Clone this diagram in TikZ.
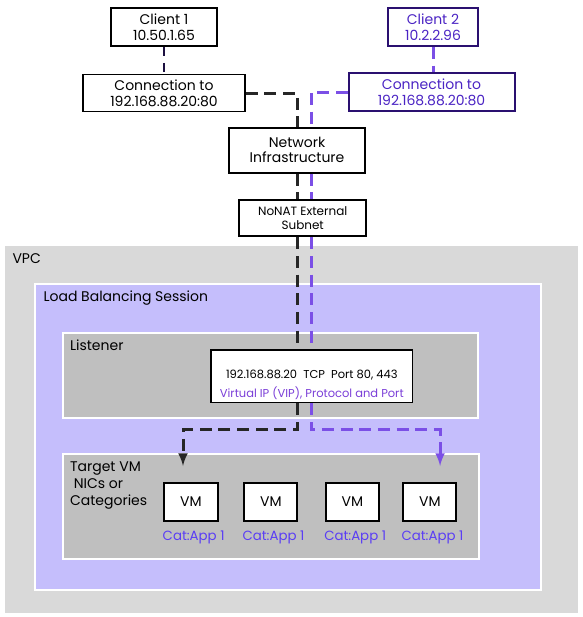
\documentclass[tikz,border=0pt]{standalone}
\usepackage{fontspec}
\setmainfont{Poppins}
\usepackage{xcolor}
\usepackage{tikz}

\definecolor{vpcgray}{HTML}{D9D9D9}
\definecolor{lbpurple}{HTML}{C5BEFC}
\definecolor{lsngray}{HTML}{BFBFBF}
\definecolor{pathblack}{HTML}{262626}
\definecolor{pathpurple}{HTML}{7B4FE6}
\definecolor{navyline}{HTML}{1C1040}
\definecolor{clientpurple}{HTML}{2A1070}
\definecolor{textpurple}{HTML}{4B24C4}
\definecolor{catblue}{HTML}{5A3DF5}
\definecolor{vippurple}{HTML}{7B3FD8}

\begin{document}
\begin{tikzpicture}[x=0.75pt, y=-0.75pt, thick, >=latex,
    box/.style={draw, line width=1.5pt, fill=white, align=center, inner sep=0pt,
        font=\fontsize{10.5}{11.8}\selectfont},
    region/.style={draw=white, line width=1.5pt, inner sep=0pt},
    regionlbl/.style={anchor=base west, inner sep=0pt, font=\fontsize{10.5}{12.5}\selectfont},
    vmbox/.style={box, minimum width=40pt, minimum height=28.5pt},
    catlbl/.style={anchor=base, inner sep=0pt, text=catblue, font=\fontsize{10}{11}\selectfont},
    blkpath/.style={draw=pathblack, line width=2.25pt, dash pattern=on 9pt off 5pt},
    purpath/.style={draw=pathpurple, line width=2.25pt, dash pattern=on 9pt off 5pt}]
    \useasboundingbox (0,0) rectangle (582,617);

    % Regions
    \node[region, draw=none, fill=vpcgray, minimum width=429.75pt, minimum height=275.25pt] (vpc) at (291.5,429.5) {};
    \node[regionlbl] (vpclbl) at ([xshift=6pt,yshift=-13.5pt]vpc.north west) {VPC};
    \node[region, fill=lbpurple, minimum width=379.5pt, minimum height=229.5pt] (lbs) at (288,437) {};
    \node[regionlbl] (lbslbl) at ([xshift=6.75pt,yshift=-13.5pt]lbs.north west) {Load Balancing Session};
    \node[region, fill=lsngray, minimum width=311.6pt, minimum height=63.75pt] (listener) at (270.3,375.8) {};
    \node[regionlbl] (lsnlbl) at ([xshift=6pt,yshift=-14pt]listener.north west) {Listener};
    \node[region, fill=lsngray, minimum width=312.4pt, minimum height=78.75pt] (target) at (270.8,506.5) {};
    \node[anchor=north west, inner sep=0pt, align=left, font=\fontsize{10.5}{12.5}\selectfont] (tgtlbl)
        at ([xshift=6pt,yshift=-6.5pt]target.north west) {Target VM\\\ NICs or\\Categories};

    % Nodes
    \node[box, minimum width=79.5pt, minimum height=28.5pt] (client1) at (164,27) {Client 1\\10.50.1.65};
    \node[box, draw=clientpurple, text=textpurple, minimum width=67pt, minimum height=28.5pt] (client2) at (433,27) {Client 2\\10.2.2.96};
    \node[box, line width=1.2pt, minimum width=121.5pt, minimum height=27.75pt] (conn1) at (164,93) {Connection to\\192.168.88.20:80};
    \node[box, draw=clientpurple, text=textpurple, minimum width=124.5pt, minimum height=28.5pt] (conn2) at (431.5,92) {Connection to\\192.168.88.20:80};
    \node[box, minimum width=102pt, minimum height=33.75pt] (netinfra) at (297,150) {Network\\Infrastructure};
    \node[box, minimum width=95pt, minimum height=27.5pt, font=\fontsize{9}{10.5}\selectfont] (nonat) at (302.7,218) {NoNAT External\\Subnet};
    \node[box, line width=1.2pt, minimum width=151.3pt, minimum height=39.5pt] (vip) at (311.8,376.3) {};
    \node[anchor=base, inner sep=0pt, font=\fontsize{8.6}{9}\selectfont] (vipaddr)
        at ([yshift=-1.5pt]vip.center) {192.168.88.20~~TCP~~Port 80, 443};
    \node[anchor=base, inner sep=0pt, text=vippurple, font=\fontsize{8.6}{9}\selectfont] (viplbl)
        at ([yshift=-16pt]vip.center) {Virtual IP (VIP), Protocol and Port};

    \node[vmbox] (vm1) at (191,502) {VM};
    \node[vmbox] (vm2) at (270.8,502) {VM};
    \node[vmbox] (vm3) at (352.5,502) {VM};
    \node[vmbox] (vm4) at (429.8,502) {VM};
    \foreach \i in {1,...,4}
        \node[catlbl] (cat\i) at ([xshift=2pt,yshift=-13.7pt]vm\i.south) {Cat:App 1};

    % Arrows
    \draw[navyline, line width=2pt, dash pattern=on 7pt off 5pt] (client1.south) -- (conn1.north);
    \draw[purpath] (client2.south) -- (client2.south |- conn2.north);
    \draw[blkpath] (conn1.east) -| (netinfra.north);
    \draw[purpath] (conn2.west) -| ([xshift=10.5pt]netinfra.north);
    \draw[blkpath] (netinfra.south) -- (netinfra.south |- nonat.north);
    \draw[purpath] ([xshift=10.5pt]netinfra.south) -- ([xshift=10.5pt]netinfra.south |- nonat.north);
    \draw[blkpath] (nonat.south -| netinfra.south) -- (vip.north -| netinfra.south);
    \draw[purpath] ([xshift=10.5pt]nonat.south -| netinfra.south) -- ([xshift=10.5pt]vip.north -| netinfra.south);
    \draw[blkpath, ->] (vip.south -| netinfra.south) -- ++(0,26.5) -| ([xshift=-6pt,yshift=12pt]vm1.north);
    \draw[purpath, ->] ([xshift=10.5pt]vip.south -| netinfra.south) -- ++(0,26.5) -| ([xshift=7.7pt,yshift=12pt]vm4.north);
\end{tikzpicture}
\end{document}
